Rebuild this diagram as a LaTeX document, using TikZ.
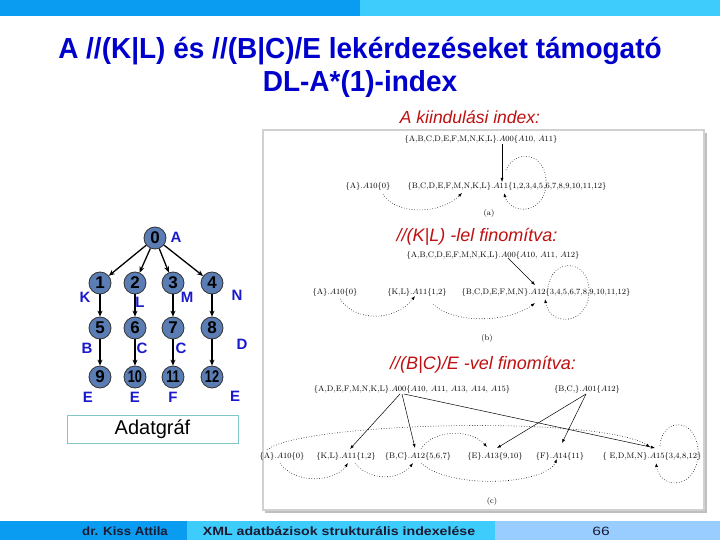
\documentclass[tikz,border=0pt]{standalone}
\usepackage{fontspec}
\newfontfamily\arial{Liberation Sans}
\usetikzlibrary{arrows.meta}
\definecolor{titleblue}{HTML}{0000CC}
\definecolor{barA}{HTML}{0A9CF0}
\definecolor{barB}{HTML}{3DCCFC}
\definecolor{barC}{HTML}{99CCFF}
\definecolor{redlbl}{HTML}{C01010}
\definecolor{nodefill}{HTML}{5A7DB4}
\definecolor{lblblue}{HTML}{1A1ACC}
\definecolor{boxteal}{HTML}{80C8C8}
\definecolor{bartext}{HTML}{1A1A33}
\begin{document}
\begin{tikzpicture}[x=1pt,y=-1pt,
  idx/.style={font=\fontsize{8}{9}\selectfont, inner sep=0pt},
  redtxt/.style={text=redlbl, inner sep=0pt, font=\arial\itshape\fontsize{18}{18}\selectfont},
  sarr/.style={-{Latex[length=4pt,width=3pt]}, line width=0.5pt},
  darr/.style={dotted, line width=0.6pt, -{Latex[length=4pt,width=3pt]}},
  gnode/.style={circle, draw=black!80, fill=nodefill, line width=0.8pt, minimum size=22pt, inner sep=0pt, font=\arial\bfseries\fontsize{17}{17}\selectfont},
  glbl/.style={text=lblblue, inner sep=0pt, font=\arial\bfseries\fontsize{15}{15}\selectfont},
  garr/.style={-{Stealth[length=6pt,width=5pt]}, line width=1.3pt},
  bartxt/.style={text=bartext, inner sep=0pt, font=\arial\bfseries\fontsize{12}{12}\selectfont}]
\useasboundingbox (0,0) rectangle (720,540);
\fill[white] (0,0) rectangle (720,540);
% top bar
\fill[barA] (0,0) rectangle (360,16);
\fill[barB] (360,0) rectangle (720,16);
% title
\node[text=titleblue, inner sep=0pt, font=\arial\bfseries\fontsize{29}{29}\selectfont] (t1) at (360,51) {\scalebox{0.965}[1]{A //(K|L) és //(B|C)/E lekérdezéseket támogató}};
\node[text=titleblue, inner sep=0pt, font=\arial\bfseries\fontsize{29}{29}\selectfont] (t2) at (360,84) {\scalebox{0.965}[1]{DL-A*(1)-index}};
\node[redtxt, font=\arial\itshape\fontsize{17.5}{17.5}\selectfont] (ta) at (470,117) {A kiindulási index:};
% panel
\fill[black!25] (265,133) rectangle (707,513);
\filldraw[fill=white, draw=black!18, line width=2.5pt] (263,130) rectangle (704,510);
% (a)
\node[idx] (a00) at (481,140) {\{A,B,C,D,E,F,M,N,K,L\}.$A00$\{$A10$, $A11$\}};
\node[idx] (a10) at (368,187) {\{A\}.$A10$\{0\}};
\node[idx] (a11) at (507,187) {\{B,C,D,E,F,M,N,K,L\}.$A11$\{1,2,3,4,5,6,7,8,9,10,11,12\}};
\node[idx] (alab) at (489,213) {(a)};
\coordinate (a00o) at (502,144);
\coordinate (a11i) at (502,182);
\coordinate (a10o) at (383,194);
\coordinate (a11j) at (462,193);
\coordinate (a11s) at (506,170);
\coordinate (a11e) at (504,193);
\draw[sarr] (a00o) -- (a11i);
\draw[darr] (a10o) .. controls (395,215) and (440,215) .. (a11j);
\draw[darr] (a11s) .. controls (515,148) and (548,152) .. (546,185) .. controls (544,215) and (510,215) .. (a11e);
% (b)
\node[redtxt] (tb) at (477,237) {//(K|L) -lel finomítva:};
\node[idx] (b00) at (493,255) {\{A,B,C,D,E,F,M,N,K,L\}.$A00$\{$A10$, $A11$, $A12$\}};
\node[idx] (b10) at (335,292) {\{A\}.$A10$\{0\}};
\node[idx] (b11) at (417,292) {\{K,L\}.$A11$\{1,2\}};
\node[idx] (b12) at (546,292) {\{B,C,D,E,F,M,N\}.$A12$\{3,4,5,6,7,8,9,10,11,12\}};
\node[idx] (blab) at (487,338) {(b)};
\coordinate (b00o) at (508,258);
\coordinate (b12i) at (535,285);
\coordinate (b10o) at (340,299);
\coordinate (b11i) at (415,296);
\coordinate (b11o) at (433,304);
\coordinate (b12j) at (535,303);
\coordinate (b12s) at (548,287);
\coordinate (b12e) at (545,299);
\draw[sarr] (b00o) -- (b12i);
\draw[darr] (b10o) .. controls (355,322) and (395,322) .. (b11i);
\draw[darr] (b11o) .. controls (455,325) and (510,322) .. (b12j);
\draw[darr] (b12s) .. controls (552,258) and (588,258) .. (589,290) .. controls (590,325) and (550,328) .. (b12e);
% (c)
\node[redtxt] (tc) at (483,365) {//(B|C)/E -vel finomítva:};
\node[idx] (c00) at (412,389) {\{A,D,E,F,M,N,K,L\}.$A00$\{$A10$, $A11$, $A13$, $A14$, $A15$\}};
\node[idx] (c01) at (587,389) {\{B,C,\}.$A01$\{$A12$\}};
\node[idx] (c10) at (282,456) {\{A\}.$A10$\{0\}};
\node[idx] (c11) at (346,456) {\{K,L\}.$A11$\{1,2\}};
\node[idx] (c12) at (418,456) {\{B,C\}.$A12$\{5,6,7\}};
\node[idx] (c13) at (495,456) {\{E\}.$A13$\{9,10\}};
\node[idx] (c14) at (560,456) {\{F\}.$A14$\{11\}};
\node[idx] (c15) at (652,456) {\{ E,D,M,N\}.$A15$\{3,4,8,12\}};
\node[idx] (clab) at (492,501) {(c)};
\coordinate (c00a) at (400,394);
\coordinate (c00b) at (402,394);
\coordinate (c00c) at (404,394);
\coordinate (c01a) at (586,394);
\coordinate (c11i) at (350,449);
\coordinate (c12i) at (415,448);
\coordinate (c15i) at (655,448);
\coordinate (c13i) at (497,448);
\coordinate (c14i) at (562,443);
\draw[sarr] (c00a) -- (c11i);
\draw[sarr] (c00b) -- (c12i);
\draw[sarr] (c00c) -- (c15i);
\draw[sarr] (c01a) -- (c13i);
\draw[sarr] (c01a) -- (c14i);
\coordinate (c10t) at (267,450);
\coordinate (c15j) at (650,447);
\coordinate (c10b) at (280,463);
\coordinate (c11b) at (348,463);
\coordinate (c11o) at (355,463);
\coordinate (c12b) at (413,463);
\coordinate (c12t) at (421,449);
\coordinate (c13t) at (487,447);
\coordinate (c12o) at (421,463);
\coordinate (c14b) at (557,459);
\coordinate (c15s) at (660,446);
\coordinate (c15e) at (656,463);
\draw[darr] (c10t) .. controls (300,422) and (600,415) .. (c15j);
\draw[darr] (c10b) .. controls (295,485) and (335,482) .. (c11b);
\draw[darr] (c11o) .. controls (370,482) and (400,480) .. (c12b);
\draw[darr] (c12t) .. controls (432,430) and (470,428) .. (c13t);
\draw[darr] (c12o) .. controls (450,490) and (545,485) .. (c14b);
\draw[darr] (c15s) .. controls (662,415) and (700,418) .. (698,455) .. controls (696,490) and (660,490) .. (c15e);
% left data graph
\node[gnode] (n0) at (155,238) {0};
\node[gnode] (n1) at (100,283) {1};
\node[gnode] (n2) at (135,283) {2};
\node[gnode] (n3) at (173,283) {3};
\node[gnode] (n4) at (212,283) {4};
\node[gnode] (n5) at (100,328) {5};
\node[gnode] (n6) at (135,328) {6};
\node[gnode] (n7) at (173,328) {7};
\node[gnode] (n8) at (212,328) {8};
\node[gnode] (n9) at (100,377) {9};
\node[gnode] (n10) at (135,377) {\scalebox{0.75}[1]{10}};
\node[gnode] (n11) at (173,377) {\scalebox{0.75}[1]{11}};
\node[gnode] (n12) at (212,377) {\scalebox{0.75}[1]{12}};
\foreach \s/\t in {n0/n1,n0/n2,n0/n3,n0/n4,n1/n5,n2/n6,n3/n7,n4/n8,n5/n9,n6/n10,n7/n11,n8/n12}
  \draw[garr] (\s) -- (\t);
\node[glbl] (lA) at (176,237) {A};
\node[glbl] (lK) at (85,297) {K};
\node[glbl] (lL) at (140,302) {L};
\node[glbl] (lM) at (187,297) {M};
\node[glbl] (lN) at (237,295) {N};
\node[glbl] (lB) at (87,348) {B};
\node[glbl] (lC1) at (142,348) {C};
\node[glbl] (lC2) at (181,348) {C};
\node[glbl] (lD) at (242,344) {D};
\node[glbl] (lE1) at (88,397) {E};
\node[glbl] (lE2) at (135,397) {E};
\node[glbl] (lF) at (173,397) {F};
\node[glbl] (lE3) at (235,396) {E};
\node[draw=boxteal, line width=1pt, minimum width=171pt, minimum height=28pt, inner sep=0pt, font=\arial\fontsize{20}{20}\selectfont] (adat) at (152.5,429) {Adatgráf};
% bottom bar
\fill[barA] (0,521) rectangle (187,540);
\fill[barB] (187,521) rectangle (495,540);
\fill[barC] (495,521) rectangle (720,540);
\node[bartxt, anchor=east] (auth) at (168,531) {\scalebox{1.1}[1]{dr. Kiss Attila}};
\node[bartxt] (subj) at (339,531) {\scalebox{1.18}[1]{XML adatbázisok strukturális indexelése}};
\node[bartxt, font=\arial\fontsize{12}{12}\selectfont] (pg) at (601,531) {\scalebox{1.3}[1]{66}};
\end{tikzpicture}
\end{document}
